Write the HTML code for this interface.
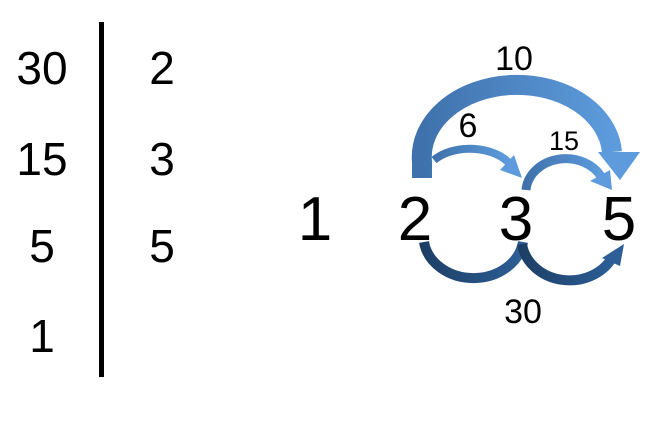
<!DOCTYPE html>
<html><head><style>
body{margin:0;background:#fff;width:648px;height:424px;overflow:hidden}
svg{display:block}
text{font-family:"Liberation Sans",sans-serif;fill:#000}
</style></head><body>
<svg width="648" height="424" viewBox="0 0 648 424">
<defs>
<linearGradient id="g1" x1="0" x2="1" y1="0" y2="0"><stop offset="0" stop-color="#3f72ac"/><stop offset="1" stop-color="#5d9bdc"/></linearGradient>
<linearGradient id="g2" x1="0" x2="1"><stop offset="0" stop-color="#1d3f66"/><stop offset="1" stop-color="#2d5e96"/></linearGradient>
</defs>
<rect x="99" y="22" width="5" height="355" fill="#000"/>
<g font-size="46" text-anchor="middle">
<text x="42" y="84">30</text><text x="42" y="175">15</text><text x="42" y="262">5</text><text x="42" y="352">1</text>
<text x="162" y="84">2</text><text x="162" y="175">3</text><text x="162" y="262">5</text>
</g>
<g font-size="62" text-anchor="middle">
<text x="315" y="240">1</text><text x="415" y="240">2</text><text x="516" y="240">3</text><text x="619" y="240">5</text>
</g>
<path d="M422 178 L422 162 A95 72 0 0 1 612 152" fill="none" stroke="url(#g1)" stroke-width="20"/>
<polygon points="598,152 640,152 620,180" fill="#5d9bdc"/>
<path d="M434 160 A46 30 0 0 1 510 164" fill="none" stroke="url(#g1)" stroke-width="8"/>
<polygon points="500,170 514,155 522,178" fill="#5d9bdc"/>
<path d="M526 190 A40 34 0 0 1 602 178" fill="none" stroke="url(#g1)" stroke-width="9"/>
<polygon points="590,181 610,170 612,190" fill="#5d9bdc"/>
<path d="M424 242 A50 42 0 0 0 523 242" fill="none" stroke="url(#g2)" stroke-width="10"/>
<path d="M522 244 A48 42 0 0 0 612 258" fill="none" stroke="url(#g2)" stroke-width="10"/>
<polygon points="602,258 624,244 620,266" fill="#2d5e96"/>
<g font-size="34" text-anchor="middle">
<text x="514" y="70">10</text><text x="468" y="137">6</text><text x="523" y="323">30</text>
</g>
<text x="564" y="150" font-size="27" text-anchor="middle">15</text>
</svg>
</body></html>
